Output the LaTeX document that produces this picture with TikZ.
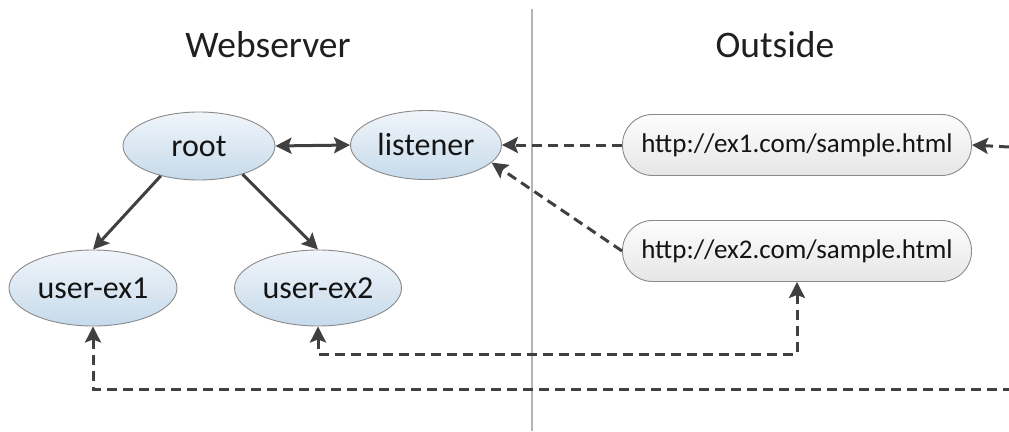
\documentclass[tikz,border=0pt]{standalone}
\usepackage{fontspec}
\setmainfont{Carlito}
\usetikzlibrary{shapes.geometric,arrows.meta}
\definecolor{inkgray}{HTML}{404040}
\definecolor{rimgray}{HTML}{8A8A8A}
\definecolor{ovaltop}{HTML}{F0F5FA}
\definecolor{ovalbot}{HTML}{C6DAEB}
\definecolor{pilltop}{HTML}{FDFDFD}
\definecolor{pillbot}{HTML}{E6E6E6}
\definecolor{splitgray}{HTML}{B4B4B4}
\tikzset{
  heading/.style={font=\fontsize{37.5}{40}\selectfont, text=black!88},
  oval/.style={ellipse, draw=rimgray, line width=0.9pt, top color=ovaltop, bottom color=ovalbot,
    inner sep=0pt, font=\fontsize{32}{36}\selectfont, text=black!92},
  pill/.style={rectangle, rounded corners=30pt, draw=rimgray, line width=0.9pt,
    top color=pilltop, bottom color=pillbot, minimum width=349pt, minimum height=61pt,
    inner sep=0pt, font=\fontsize{27}{30}\selectfont, text=black!92},
  link/.style={draw=inkgray, line width=3pt},
  arrowtip/.tip={Stealth[length=16pt,width=16pt,inset=3pt]},
  tip/.style={-arrowtip},
  dashlink/.style={link, dash pattern=on 10pt off 6pt},
}
\begin{document}
\begin{tikzpicture}[x=1pt,y=-1pt]
  \useasboundingbox (0,0) rectangle (1009,431);

  % divider between the two zones
  \draw[splitgray, line width=1.5pt] (532,9) -- (532,431);

  % zone headings
  \node[heading] (hweb) at (268,45) {Webserver};
  \node[heading] (hout) at (775,45) {Outside};

  % webserver nodes
  \node[oval, minimum width=152pt, minimum height=68pt] (root) at (199,146) {root};
  \node[oval, minimum width=151pt, minimum height=69pt] (listener) at (426,145) {listener};
  \node[oval, minimum width=168pt, minimum height=76pt] (user1) at (93,288) {user-ex1};
  \node[oval, minimum width=167pt, minimum height=76pt] (user2) at (318,288) {user-ex2};

  % outside addresses
  \node[pill] (ex1) at (797,145) {http://ex1.com/sample.html};
  \node[pill] (ex2) at (797,251) {http://ex2.com/sample.html};

  % free ends running off the right edge
  \coordinate (edgeA) at (1009,147);
  \coordinate (edgeB) at (1009,389);
  \coordinate (lowB) at (0,354);

  % solid links inside the webserver
  \draw[link, arrowtip-arrowtip] (root.east) -- (listener.west);
  \draw[link, tip] (root.218) -- (user1.north);
  \draw[link, tip] (root.-33) -- (user2.north);

  % dashed links across the boundary
  \draw[dashlink, tip] (ex1.west) -- (listener.east);
  \draw[dashlink, tip] (ex2.west) -- (listener.-15);
  \draw[dashlink, tip] (edgeA) -- (ex1.east);
  \draw[dashlink, arrowtip-arrowtip] (user2.south) |- (ex2.south |- lowB) -- (ex2.south);
  \draw[dashlink, arrowtip-] (user1.south) |- (edgeB);
\end{tikzpicture}
\end{document}
